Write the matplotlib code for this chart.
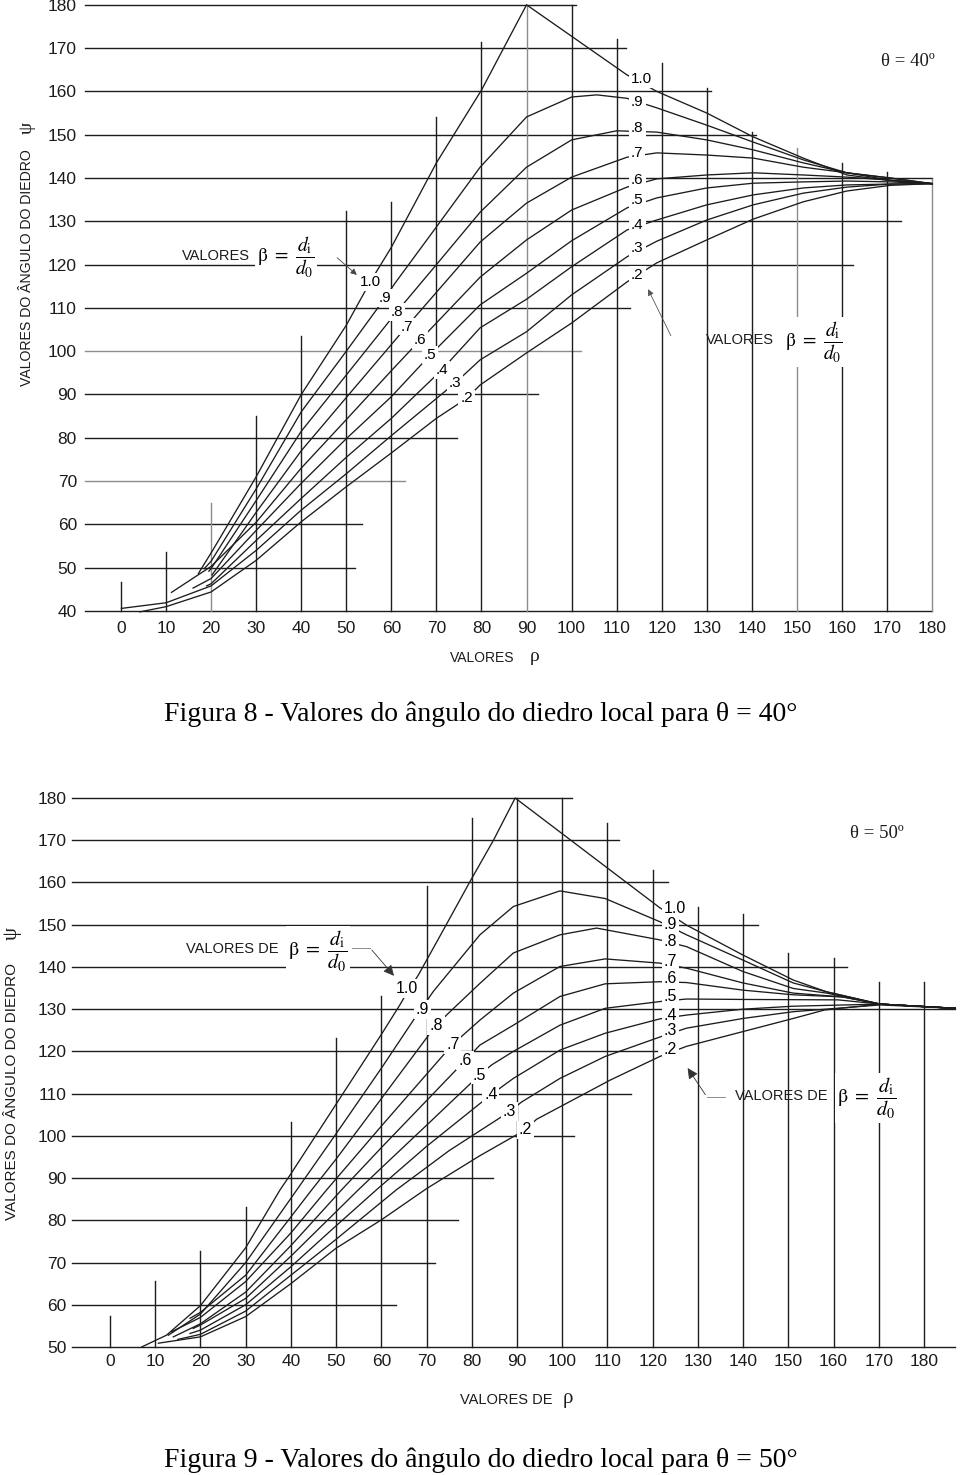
import matplotlib.pyplot as plt

plt.rcParams['font.family'] = ['Liberation Sans', 'DejaVu Sans']
plt.rcParams['mathtext.fontset'] = 'stix'

INK = '#1c1c1c'
GRAY = '#8c8c8c'

betas = ['1.0', '.9', '.8', '.7', '.6', '.5', '.4', '.3', '.2']
rho_ticks = list(range(0, 181, 10))

# ---------------- Figura 8 : theta = 40 ----------------
psi_ticks_40 = list(range(40, 181, 10))
h40_psi = [180, 170, 160, 150, 140, 130, 120, 110, 100, 90, 80, 70, 60, 50, 40]
h40_end = [101, 112, 131, 141, 180, 173, 162.5, 113, 102, 92.5, 74.5, 63, 53.5, 52, 180]
h40_gray = [100, 70]
v40_top = [46.8, 53.7, 65, 85, 103.6, 132.4, 134.4, 154, 171.4, 180,
           180, 172, 166.5, 160.8, 150.6, 147, 143.5, 141.4, 139.8]
v40_gray = [20, 90, 150, 180]

c40_10 = [(17.2, 48.7), (20.4, 54.1), (30, 71), (40, 90), (50, 106), (55.3, 116), (60, 124),
          (70, 143.5), (80, 160.3), (90, 180), (112.3, 163.8), (118.9, 160), (130, 155),
          (140.3, 149.5), (151.4, 144.6), (161.1, 140.7), (170.7, 139.4), (180, 138.7)]
c40_09 = [(18.5, 49.8), (20, 51.5), (30, 68.2), (40, 86), (50, 100), (58.6, 112.3), (60.8, 115.7),
          (70, 128.7), (79.7, 142.5), (90, 154.1), (100, 158.7), (105.6, 159.2), (112.3, 158.4),
          (118.9, 156.2), (130, 152.2), (140.3, 148.3), (151.4, 144.2), (161.1, 141.2),
          (170.7, 139.5), (180, 138.7)]
c40_08 = [(19.5, 49.2), (20, 49.8), (30, 65.5), (40, 81.5), (50, 94.5), (61.2, 109.1), (70, 120),
          (79.7, 132.1), (90, 142.5), (100, 148.8), (110, 150.9), (118.9, 150.6), (130, 148.8),
          (140.3, 146.5), (151.4, 143.5), (161.1, 141.2), (170.7, 140), (180, 138.7)]
c40_07 = [(20.2, 48.3), (30, 62.8), (40, 77), (50, 89.3), (63.4, 105.7), (70, 113.6),
          (79.7, 125.2), (90, 134.2), (100, 140.2), (112.3, 144.8), (118.9, 145.8), (130, 145.3),
          (140.3, 144.6), (151.4, 142.5), (161.1, 141.2), (170.7, 140), (180, 138.7)]
c40_06 = [(11.2, 44.3), (20, 50.3), (30, 60.5), (40, 73), (50, 84.2), (60, 95.5), (66.4, 102.6),
          (79.7, 117.1), (90, 125.7), (100, 132.6), (112.3, 137.9), (118.9, 139.8), (130, 140.7),
          (140.3, 141.2), (151.4, 140.7), (161.1, 140.2), (170.7, 139.5), (180, 138.7)]
c40_05 = [(16, 45.3), (20, 47.5), (30, 58.6), (40, 69.5), (50, 79.8), (60, 89.5), (68.6, 99.1),
          (79.7, 110.7), (90, 118), (100, 125.5), (112.3, 133.1), (118.9, 135.4), (130, 137.7),
          (140.3, 138.8), (151.4, 139.1), (161.1, 139.3), (170.7, 139.1), (180, 138.7)]
c40_04 = [(19, 45.8), (20, 46.3), (30, 56.3), (40, 66), (50, 75.5), (60, 84.5), (71.2, 95.7),
          (79.7, 105.4), (90, 112), (100, 119.5), (112.3, 128), (118.9, 130.3), (130, 133.8),
          (140.3, 136.1), (151.4, 137.7), (161.1, 138.4), (170.7, 138.6), (180, 138.7)]
c40_03 = [(0.1, 40.6), (10, 41.9), (20, 45.8), (30, 54), (40, 63.3), (50, 71.7), (60, 80.5),
          (74.1, 92.6), (79.7, 98), (90, 104.5), (100, 113), (112.3, 121.8), (118.9, 125.4),
          (130, 130.3), (140.3, 133.8), (151.4, 136.5), (161.1, 137.9), (170.7, 138.6), (180, 138.7)]
c40_02 = [(4.2, 39.8), (10, 41), (20, 44.4), (30, 51.7), (40, 60.6), (50, 68.7), (60, 76.5),
          (70, 84.5), (76.7, 89.1), (79.7, 92.2), (90, 99.6), (100, 106.5), (112.3, 116),
          (118.9, 120.4), (130, 125.7), (140.3, 130.5), (151.4, 134.5), (161.1, 137),
          (170.7, 138.3), (180, 138.7)]
curves40 = [c40_10, c40_09, c40_08, c40_07, c40_06, c40_05, c40_04, c40_03, c40_02]
lab40_left = [(55.3, 116), (58.6, 112.3), (61.2, 109.1), (63.4, 105.7), (66.4, 102.6),
              (68.6, 99.1), (71.2, 95.7), (74.1, 92.6), (76.7, 89.1)]
lab40_right = [162.9, 157.5, 151.5, 145.8, 139.5, 134.9, 129.1, 123.8, 117.6]

# ---------------- Figura 9 : theta = 50 ----------------
psi_ticks_50 = list(range(50, 181, 10))
h50_psi = [180, 170, 160, 150, 140, 130, 120, 110, 100, 90, 80, 70, 60, 50]
h50_end = [102.2, 112.6, 123.4, 143.3, 163, 186.9, 121, 115.2, 102.6, 84.7, 76.9, 71.9, 63.2, 186.9]
v50_top = [57.3, 65.7, 72.8, 83.2, 103.3, 123.1, 133.1, 159.2, 175.3, 180,
           180, 174, 163, 154.3, 152.5, 143.4, 142, 136.5, 136.5]

c50_10 = [(7, 50), (12.5, 52.8), (20, 59.8), (30, 73.5), (37.6, 87.2), (40, 91), (50, 107.5),
          (60, 124), (64.1, 131), (66, 134.5), (68.2, 138.1), (74, 149.3), (79.6, 160.2),
          (84.8, 170), (89.6, 180), (121.6, 154), (127.5, 149.9), (140, 142.8), (151.1, 136.9),
          (158.5, 134.1), (170.3, 131.2), (186.9, 130.2)]
c50_09 = [(12.9, 52.8), (20, 57.8), (30, 70), (40, 85.2), (50, 100.5), (60, 116), (67.1, 127.4),
          (71.5, 134.2), (81.8, 147.6), (89.2, 154.3), (99.5, 158), (109.5, 156.2), (121.6, 150.7),
          (127.5, 147.6), (140, 141.6), (151.1, 136.2), (158.5, 134.1), (170.3, 131.2), (186.9, 130.2)]
c50_08 = [(17.7, 56.8), (20, 58.2), (30, 67), (40, 80.8), (44.6, 87.2), (50, 94.5), (60, 108.8),
          (72.1, 126.2), (75.2, 129.4), (81.8, 136.1), (89.2, 143.3), (99.5, 147.6), (107.6, 149.2),
          (121.6, 146.4), (127.5, 144.8), (140, 138.9), (151.1, 134.9), (158.5, 133.8),
          (170.3, 131.2), (186.9, 130.2)]
c50_07 = [(13.6, 53.6), (20, 57), (30, 65.5), (40, 77), (47.9, 87.2), (60, 102.3), (75.8, 121.7),
          (81.8, 127.4), (89.2, 133.8), (99.5, 140.1), (109.5, 141.9), (121.6, 140.9),
          (127.5, 139.7), (140, 136.2), (151.1, 133.8), (162, 132.9), (170.3, 131.2), (186.9, 130.2)]
c50_06 = [(14, 52.4), (20, 55.5), (30, 63), (40, 74), (51.2, 87.2), (60, 97.2), (78.5, 117.8),
          (81.8, 121.5), (89.2, 126.2), (99.5, 133), (109.5, 136), (121.6, 136.5), (127.5, 136.3),
          (140, 134.5), (151.1, 133.4), (162, 132.9), (170.3, 131.2), (186.9, 130.2)]
c50_05 = [(18.4, 54.4), (20, 55.2), (30, 61.5), (40, 71.5), (54.9, 87.2), (60, 92.4), (70, 102.5),
          (81.7, 114.4), (84.4, 116.8), (89.2, 120), (99.5, 126.2), (109.5, 130.2), (121.6, 131.8),
          (127.5, 132.4), (140, 132.3), (161, 132.2), (170.3, 131.2), (186.9, 130.2)]
c50_04 = [(17.7, 53.2), (20, 54), (30, 60), (40, 69), (50, 78.7), (58.9, 87.2), (70, 97.5),
          (84.2, 109.7), (89.2, 113.6), (99.5, 120.3), (109.5, 124.3), (121.6, 127.7),
          (127.5, 128.6), (140, 130), (151.1, 130.7), (170.3, 131.2), (186.9, 130.2)]
c50_03 = [(15, 51.8), (20, 53), (30, 58.5), (40, 67), (50, 75.5), (63.3, 87.2), (75, 96.5),
          (88.3, 105.7), (91, 108), (99.5, 113.6), (109.5, 118.8), (121.6, 123.4), (127.5, 125.5),
          (140, 127.8), (151.1, 129.4), (170.3, 131), (186.9, 130.2)]
c50_02 = [(10.7, 50.9), (20, 52.4), (30, 57.2), (40, 65), (50, 73.4), (60, 80.1), (70, 87.5),
          (81.8, 95.3), (91.8, 101.4), (94.3, 103.9), (110.6, 113.2), (121.6, 118.8),
          (127.5, 121.2), (140, 124.7), (151.1, 127.8), (158, 129.8), (170.3, 131.2), (186.9, 130.2)]
curves50 = [c50_10, c50_09, c50_08, c50_07, c50_06, c50_05, c50_04, c50_03, c50_02]
lab50_left = [(65.6, 134.8), (69.1, 130), (72.1, 126.2), (75.8, 121.7), (78.5, 117.8),
              (81.7, 114.4), (84.2, 109.7), (88.3, 105.7), (91.8, 101.4)]
lab50_right = [153.9, 150.1, 146, 141.2, 137.3, 133, 128.6, 124.9, 120.5]

W, H = 960, 1475
fig = plt.figure(figsize=(W / 100, H / 100), dpi=100)

FRAC = r'$\mathrm{\beta}\ =\ \dfrac{d_{\mathrm{i}}}{d_0}$'
SERIF = 'Liberation Serif'
white = dict(boxstyle='square,pad=0.12', fc='white', ec='none')


def make_axes(px0, sx, py0, y0, sy, xlim, ylim):
    # place axes so that data units land on the same pixels as the scan
    left = px0 + xlim[0] * sx
    right = px0 + xlim[1] * sx
    top = py0 - (ylim[1] - y0) * sy
    bottom = py0 - (ylim[0] - y0) * sy
    ax = fig.add_axes([left / W, 1 - bottom / H, (right - left) / W, (bottom - top) / H])
    ax.set_xlim(*xlim)
    ax.set_ylim(*ylim)
    for s in ax.spines.values():
        s.set_visible(False)
    return ax


def draw_grid(ax, h_psi, h_end, h_gray, v_top, v_gray, x_start, y_base):
    for p, e in zip(h_psi, h_end):
        ax.plot([x_start, e], [p, p], color=GRAY if p in h_gray else INK, lw=1.0, zorder=1)
    for r, t in zip(rho_ticks, v_top):
        ax.plot([r, r], [y_base, t], color=GRAY if r in v_gray else INK, lw=1.0, zorder=1)


def draw_curves(ax, curves, left_pos, right_psi, right_x, fs):
    for pts, lab, (lx, ly), ry in zip(curves, betas, left_pos, right_psi):
        xs = [p[0] for p in pts]
        ys = [p[1] for p in pts]
        ax.plot(xs, ys, color=INK, lw=0.95, zorder=2, solid_joinstyle='round')
        ax.text(lx, ly, lab, fontsize=fs, ha='center', va='center', bbox=white, zorder=4)
        ax.text(right_x, ry, lab, fontsize=fs, ha='left', va='center', bbox=white, zorder=4)


# ---------- panel 1 ----------
ax1 = make_axes(121, 4.506, 611, 40, 4.33, (-9, 185), (38, 181))
draw_grid(ax1, h40_psi, h40_end, h40_gray, v40_top, v40_gray, -8, 40)
draw_curves(ax1, curves40, lab40_left, lab40_right, 113.2, 11)
ax1.set_xticks(rho_ticks)
ax1.set_yticks(psi_ticks_40)
ax1.tick_params(length=0, labelsize=12.5, colors=INK)
ax1.tick_params(axis='y', pad=2.5)
ax1.tick_params(axis='x', pad=1.0)

ax1.text(28.6, 120.3, 'VALORES', fontsize=10.5, ha='right', va='bottom', color=INK, zorder=4)
ax1.text(30.2, 121.8, FRAC, fontsize=14, ha='left', va='center', bbox=white, zorder=4)
ax1.annotate('', xy=(52.8, 117.2), xytext=(47.5, 122),
             arrowprops=dict(arrowstyle='-|>', color='#444', lw=0.6, mutation_scale=9), zorder=5)
ax1.text(137.4, 102.6, 'VALORES', fontsize=10.5, ha='center', va='center', color=INK, zorder=4)
ax1.text(147.4, 102.1, FRAC, fontsize=14, ha='left', va='center', bbox=white, zorder=4)
ax1.annotate('', xy=(116.7, 114.9), xytext=(122.3, 103),
             arrowprops=dict(arrowstyle='-|>', color='#555', lw=0.6, mutation_scale=9), zorder=5)
ax1.text(174.7, 166.8, 'θ = 40º', fontsize=13.5, family=SERIF,
         ha='center', va='center', color=INK)
ax1.text(-20.9, 119.3, 'VALORES DO ÂNGULO DO DIEDRO', fontsize=10.2,
         rotation=90, ha='center', va='center', color=INK)
ax1.text(-20.9, 151.5, 'ψ', fontsize=14, family=SERIF, rotation=90,
         ha='center', va='center', color=INK)
ax1.text(80.1, 29.1, 'VALORES', fontsize=10, ha='center', va='center', color=INK)
ax1.text(91.9, 29.4, 'ρ', fontsize=14, family=SERIF, ha='center', va='center', color=INK)

fig.text(0.501, 1 - 714 / H, 'Figura 8 - Valores do ângulo do diedro local para θ = 40°',
         fontsize=20, family=SERIF, ha='center', va='center')

# ---------- panel 2 ----------
ax2 = make_axes(110, 4.522, 1347, 50, 4.223, (-9, 188), (48.5, 181))
draw_grid(ax2, h50_psi, h50_end, [], v50_top, [], -8.5, 50)
draw_curves(ax2, curves50, lab50_left, lab50_right, 122.5, 11.5)
ax2.set_xticks(rho_ticks)
ax2.set_yticks(psi_ticks_50)
ax2.tick_params(length=0, labelsize=12.5, colors=INK)
ax2.tick_params(axis='y', pad=1.9)
ax2.tick_params(axis='x', pad=0.8)

ax2.text(37.2, 144.2, 'VALORES DE', fontsize=10.5, ha='right', va='center', color=INK, zorder=4)
ax2.text(39.4, 143.8, FRAC, fontsize=14.5, ha='left', va='center', bbox=white, zorder=4)
ax2.plot([53.5, 57.5], [144.5, 144.5], color=GRAY, lw=0.7, zorder=5)
ax2.annotate('', xy=(63.2, 137.4), xytext=(57.5, 144.5),
             arrowprops=dict(arrowstyle='-|>', color='#333', lw=0.6, mutation_scale=16), zorder=5)
ax2.text(158.6, 109.4, 'VALORES DE', fontsize=10.5, ha='right', va='center', color=INK, zorder=4)
ax2.text(160.8, 109.0, FRAC, fontsize=14.5, ha='left', va='center', bbox=white, zorder=4)
ax2.plot([136, 132], [109.2, 109.2], color=GRAY, lw=0.7, zorder=5)
ax2.annotate('', xy=(127.4, 116.6), xytext=(132, 109.2),
             arrowprops=dict(arrowstyle='-|>', color='#333', lw=0.6, mutation_scale=16), zorder=5)
ax2.text(169.6, 171.7, 'θ = 50º', fontsize=13.5, family=SERIF,
         ha='center', va='center', color=INK)
ax2.text(-21.7, 110.6, 'VALORES DO ÂNGULO DO DIEDRO', fontsize=11,
         rotation=90, ha='center', va='center', color=INK)
ax2.text(-21.7, 147.8, 'ψ', fontsize=15, family=SERIF, rotation=90,
         ha='center', va='center', color=INK)
ax2.text(87.6, 37.4, 'VALORES DE', fontsize=10.5, ha='center', va='center', color=INK)
ax2.text(101.3, 37.7, 'ρ', fontsize=15, family=SERIF, ha='center', va='center', color=INK)

fig.text(0.501, 1 - 1460 / H, 'Figura 9 - Valores do ângulo do diedro local para θ = 50°',
         fontsize=20, family=SERIF, ha='center', va='center')

fig.savefig('out.png', dpi=100)
